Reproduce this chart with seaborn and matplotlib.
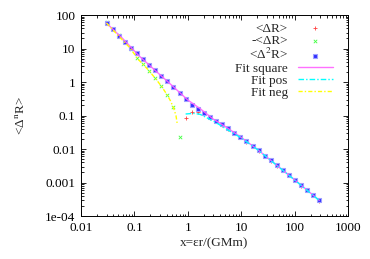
import numpy as np
import matplotlib
matplotlib.use('Agg')
import matplotlib.pyplot as plt
import seaborn as sns

# sample positions x = eps*r/(GMm)
x_pts = [0.030, 0.039, 0.0507, 0.0659, 0.0857, 0.1114, 0.1448, 0.1882, 0.2447,
         0.3181, 0.4136, 0.5376, 0.6989, 0.9086, 1.181, 1.536, 1.996, 2.595,
         3.374, 4.386, 5.702, 7.412, 9.636, 12.53, 16.29, 21.17, 27.52, 35.78,
         46.51, 60.47, 78.61, 102.2, 132.8, 172.7, 224.5, 291.9]

# <Delta^2 R>
sq_vals = [56.5, 37.4, 24.1, 15.6, 10.6, 7.2, 4.87, 3.28, 2.23, 1.54, 1.05, 0.71,
           0.47, 0.311, 0.21, 0.153, 0.119, 0.088, 0.0685, 0.0546, 0.0415, 0.0307,
           0.0228, 0.0170, 0.01256, 0.00915, 0.0063, 0.0046, 0.00326, 0.00236,
           0.00167, 0.00116, 0.000824, 0.000585, 0.000424, 0.000294]

# <Delta R> where positive (from x ~ 0.9 on)
pos_x = x_pts[13:]
pos_vals = [0.086, 0.130, 0.131, 0.115, 0.086, 0.067, 0.053, 0.040, 0.030, 0.0223,
            0.0167, 0.0123, 0.0090, 0.0062, 0.0045, 0.0032, 0.0023, 0.00165,
            0.00115, 0.00081, 0.00058, 0.00042, 0.00029]

# -<Delta R> where <Delta R> is negative
neg_x = x_pts[:13]
neg_vals = [60, 38, 25, 15.3, 9.8, 5.3, 3.45, 2.17, 1.32, 0.76, 0.41, 0.176, 0.0228]

# fitted curves
fit_sq_x = [0.03, 0.06, 0.12, 0.25, 0.5, 1.0, 1.7, 3.0, 5.0, 9.6, 20, 50, 120, 290]
fit_sq_y = [57, 20, 6.2, 2.15, 0.8, 0.29, 0.16, 0.078, 0.047, 0.0233, 0.0098,
            0.00298, 0.00095, 0.000294]

fit_pos_x = [0.91, 1.27, 1.69, 2.26, 3.01, 4.01, 5.36, 7.12, 10, 20, 50, 120, 290]
fit_pos_y = [0.111, 0.116, 0.109, 0.086, 0.0685, 0.052, 0.0387, 0.0294, 0.0215,
             0.0097, 0.00295, 0.00094, 0.00029]

fit_neg_x = [0.03, 0.05, 0.08, 0.12, 0.18, 0.25, 0.32, 0.4, 0.47, 0.54, 0.6, 0.635]
fit_neg_y = [58, 24, 11, 4.6, 2.35, 1.25, 0.75, 0.44, 0.28, 0.17, 0.1, 0.055]

xtick_vals = [0.01, 0.1, 1, 10, 100, 1000]
xtick_labels = ['0.01', '0.1', '1', '10', '100', '1000']
ytick_vals = [1e-4, 1e-3, 1e-2, 0.1, 1, 10, 100]
ytick_labels = ['1e-04', '0.001', '0.01', '0.1', '1', '10', '100']

FS = 9.5

sns.set_style('ticks')
plt.rcParams['font.family'] = ['Liberation Serif', 'DejaVu Serif']
plt.rcParams['mathtext.fontset'] = 'stix'
plt.rcParams['font.size'] = FS

fig = plt.figure(figsize=(3.7, 2.59), dpi=100)
ax = fig.add_axes([0.219, 0.166, 0.7215, 0.776])

sns.scatterplot(x=pos_x, y=pos_vals, marker='+', color='#ff4040', s=9,
                linewidth=0.6, ax=ax, label='<ΔR>', zorder=3)
sns.scatterplot(x=neg_x, y=neg_vals, marker='x', color='#40ff40', s=6,
                linewidth=0.6, ax=ax, label='-<ΔR>', zorder=3)
sns.scatterplot(x=x_pts, y=sq_vals, marker='s', color='#3030ff', s=5,
                edgecolor='#a0a0ff', linewidth=0.8, ax=ax, label='<Δ$^2$R>',
                zorder=3)

sns.lineplot(x=fit_sq_x, y=fit_sq_y, color='#ff60ff', lw=1.0, sort=False,
             estimator=None, ax=ax, label='Fit square', zorder=4, alpha=0.9)
sns.lineplot(x=fit_pos_x, y=fit_pos_y, color='#00ffff', lw=1.0, sort=False,
             estimator=None, ax=ax, label='Fit pos', zorder=4,
             linestyle=(0, (4, 1.5, 1, 1.5)))
sns.lineplot(x=fit_neg_x, y=fit_neg_y, color='#ffff00', lw=1.0, sort=False,
             estimator=None, ax=ax, label='Fit neg', zorder=4,
             linestyle=(0, (3, 1.5, 1, 1.5)))

ax.set_xscale('log')
ax.set_yscale('log')
ax.set_xlim(0.01, 1000)
ax.set_ylim(1e-4, 100)
ax.set_xticks(xtick_vals)
ax.set_xticklabels(xtick_labels)
ax.set_yticks(ytick_vals)
ax.set_yticklabels(ytick_labels)
ax.xaxis.set_minor_locator(matplotlib.ticker.LogLocator(base=10, subs=np.arange(2, 10), numticks=20))
ax.yaxis.set_minor_locator(matplotlib.ticker.LogLocator(base=10, subs=np.arange(2, 10), numticks=20))
ax.xaxis.set_minor_formatter(matplotlib.ticker.NullFormatter())
ax.yaxis.set_minor_formatter(matplotlib.ticker.NullFormatter())
ax.tick_params(which='both', direction='in', top=True, right=True, width=0.6,
               colors='black', labelsize=FS)
ax.tick_params(which='major', length=3.5, pad=4)
ax.tick_params(which='minor', length=1.8)
for sp in ax.spines.values():
    sp.set_visible(True)
    sp.set_linewidth(0.7)
    sp.set_color('black')

ax.set_xlabel('x=εr/(GMm)', fontsize=FS, labelpad=3)
ax.set_ylabel('<Δ$^\\mathrm{n}$R>', fontsize=FS, labelpad=13)

ax.legend(loc='upper right', bbox_to_anchor=(0.962, 0.988), borderaxespad=0,
          frameon=False, markerfirst=False, handlelength=2.6, handletextpad=0.8,
          labelspacing=0.0, fontsize=FS, borderpad=0.4, markerscale=1.0)

fig.savefig('out.png', dpi=100)
